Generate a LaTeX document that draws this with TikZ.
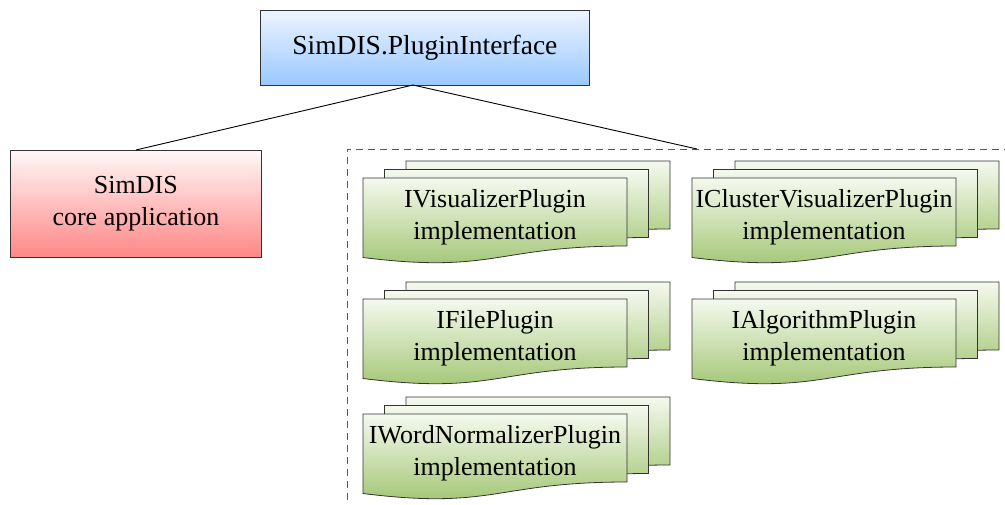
\documentclass[tikz,border=0pt]{standalone}
\usepackage{fontspec}
\setmainfont{Liberation Serif}
\usetikzlibrary{positioning}

\definecolor{ifacetop}{HTML}{EDF4FF}
\definecolor{ifacebot}{HTML}{99C8FF}
\definecolor{coretop}{HTML}{FFF8F8}
\definecolor{corebot}{HTML}{FF8686}
\definecolor{plugtop}{HTML}{F5F9EF}
\definecolor{plugbot}{HTML}{9CC26A}

\begin{document}
\begin{tikzpicture}[
  x=1pt, y=-1pt,
  font=\fontsize{26}{31.5}\selectfont,
  box/.style    ={draw=black!80, line width=0.8pt, align=center, inner sep=0pt},
  iface/.style  ={box, top color=ifacetop, bottom color=ifacebot,
                  minimum width=329pt, minimum height=75pt,
                  font=\fontsize{27.5}{32}\selectfont},
  core/.style   ={box, top color=coretop, bottom color=corebot,
                  minimum width=251pt, minimum height=107pt},
  page/.style   ={draw=black!80, line width=0.8pt, top color=plugtop,
                  bottom color=plugbot},
  plugtxt/.style={align=center, inner sep=0pt},
  conn/.style   ={line width=0.9pt},
  frame/.style  ={draw=black!65, dash pattern=on 7pt off 5pt, line width=1pt},
  plugin/.pic   ={
    \foreach \k in {2,1,0}
      \path[page, shift={(21.5*\k,-8.5*\k)}] (0,0) -- (264,0) -- (264,68)
        .. controls (132,68) and (132,96) .. (0,79.5) -- cycle;
    \node[plugtxt] (-txt) at (132,39) {#1};
  },
]
\useasboundingbox (0,0) rectangle (1005,504);

\node[iface, anchor=north west] (api) at (260,10) {SimDIS.PluginInterface};
\node[core, anchor=north west] (app) at (10,150) {SimDIS\\core application};

% plugin area
\draw[frame] (347,560) -- (347,149) -- (1030,149);
\coordinate (hub) at (413,85);
\coordinate (tap) at (697,149);

\pic (vis)  at (363,178) {plugin={IVisualizerPlugin\\implementation}};
\pic (cvis) at (692,178) {plugin={IClusterVisualizerPlugin\\implementation}};
\pic (file) at (363,299) {plugin={IFilePlugin\\implementation}};
\pic (algo) at (692,299) {plugin={IAlgorithmPlugin\\implementation}};
\pic (word) at (363,414) {plugin={IWordNormalizerPlugin\\implementation}};

\draw[conn] (hub) -- (app.north);
\draw[conn] (hub) -- (tap);
\end{tikzpicture}
\end{document}
